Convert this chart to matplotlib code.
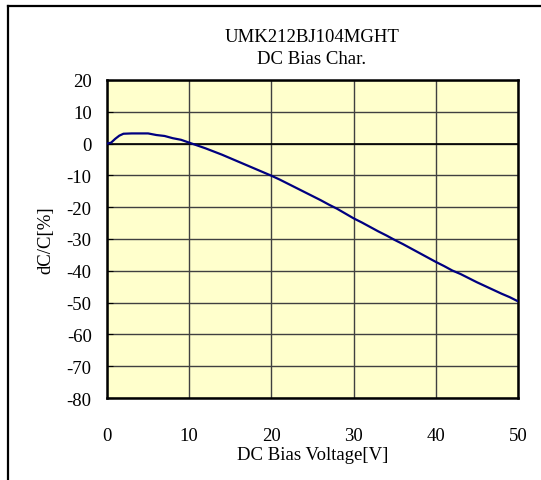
import numpy as np
import matplotlib.pyplot as plt
from matplotlib.lines import Line2D

# DC bias curve
voltage = [0, 0.5, 1, 1.5, 2, 3, 4, 5, 6, 7, 8, 9, 10, 11, 12, 13, 14, 15, 16, 17,
           18, 19, 20, 21, 22, 23, 24, 25, 26, 27, 28, 29, 30, 31, 32, 33, 34, 35,
           36, 37, 38, 39, 40, 41, 42, 43, 44, 45, 46, 47, 48, 49, 50]
dcc = [0, 0.3, 1.5, 2.5, 3.1, 3.2, 3.2, 3.2, 2.7, 2.4, 1.7, 1.2, 0.3, -0.6, -1.5,
       -2.5, -3.5, -4.6, -5.7, -6.8, -7.9, -9.0, -10.1, -11.3, -12.6, -13.9, -15.2,
       -16.5, -17.8, -19.2, -20.5, -22.0, -23.5, -24.8, -26.2, -27.6, -28.9, -30.3,
       -31.6, -33.0, -34.4, -35.8, -37.2, -38.5, -39.9, -41.0, -42.3, -43.6, -44.8,
       -46.0, -47.2, -48.3, -49.6]
x_ticks = [0, 10, 20, 30, 40, 50]
y_ticks = [20, 10, 0, -10, -20, -30, -40, -50, -60, -70, -80]

plt.rcParams['font.family'] = ['Liberation Serif', 'DejaVu Serif']
plt.rcParams['axes.unicode_minus'] = False

W, H = 541, 481
fig = plt.figure(figsize=(W / 100, H / 100), dpi=100)

# outer frame (left and top edges visible)
bx, by = 8 / W, 1 - 7 / H
fig.add_artist(Line2D([bx, bx], [0, by], color='black', lw=1.6, transform=fig.transFigure))
fig.add_artist(Line2D([bx, 1], [by, by], color='black', lw=1.6, transform=fig.transFigure))

ax = fig.add_axes([107 / W, (H - 399) / H, 411 / W, 318 / H])
ax.set_facecolor('#FFFFCC')

ax.plot(voltage, dcc, color='#000080', lw=1.6, zorder=3)

ax.set_xlim(0, 50)
ax.set_ylim(-80, 20)
ax.set_xticks(x_ticks)
ax.set_yticks(y_ticks)
ax.grid(True, color='#404040', lw=1.0)
ax.axhline(0, color='black', lw=1.2, zorder=2)
ax.set_axisbelow(True)

for s in ax.spines.values():
    s.set_linewidth(1.8)
    s.set_color('black')

fs = 13.5
ax.tick_params(axis='y', direction='in', length=4, pad=11, labelsize=fs)
ax.tick_params(axis='x', length=0, pad=21, labelsize=fs)

ax.set_xlabel('DC Bias Voltage[V]', fontsize=fs, labelpad=1)
ax.set_ylabel('dC/C[%]', fontsize=fs, labelpad=9)

fig.text(312 / W, 1 - 38 / H, 'UMK212BJ104MGHT', ha='center', va='center', fontsize=fs)
fig.text(312 / W, 1 - 59 / H, 'DC Bias Char.', ha='center', va='center', fontsize=fs)

fig.savefig('out.png', dpi=100)
